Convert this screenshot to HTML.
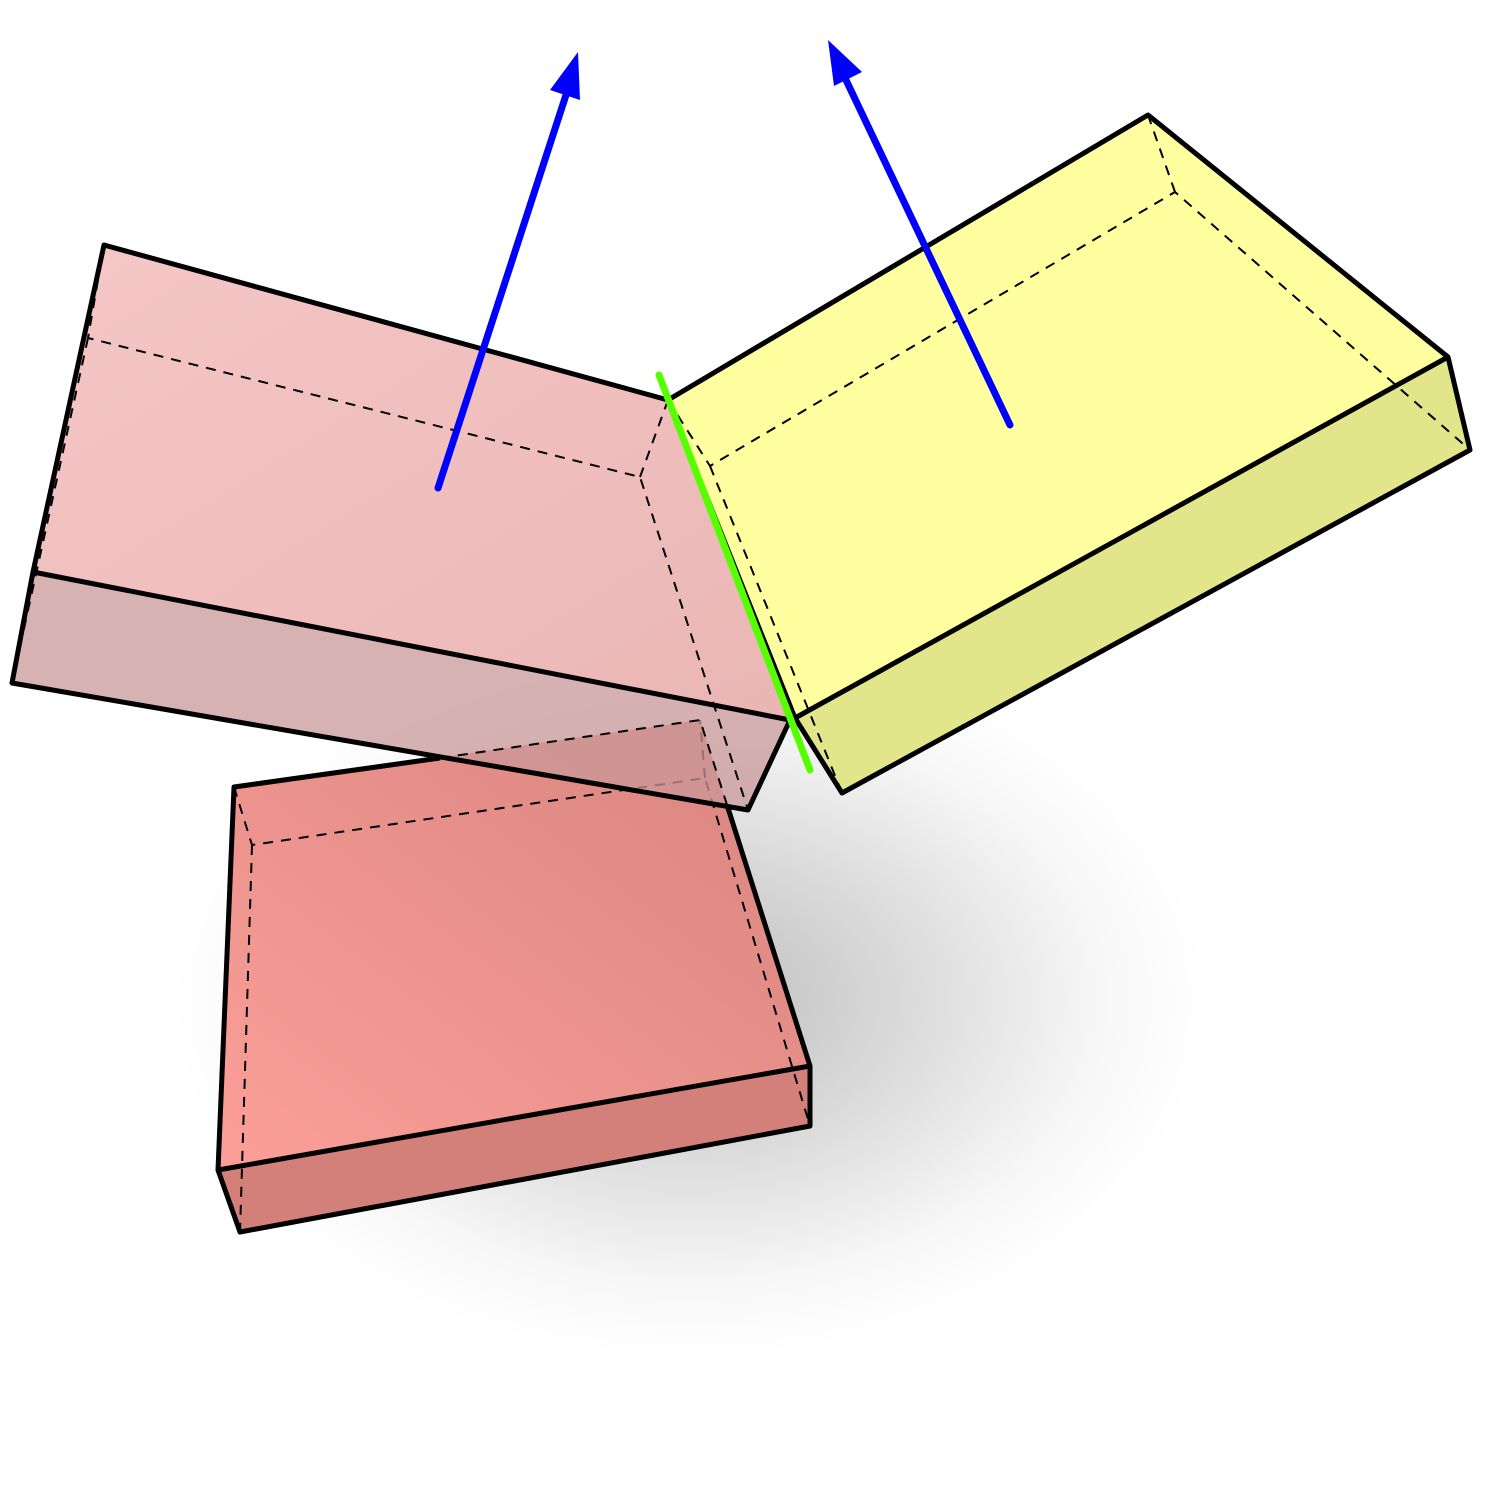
<!DOCTYPE html>
<html><head><meta charset="utf-8"><style>html,body{margin:0;padding:0;background:#fff}svg{display:block}</style></head>
<body>
<svg width="1500" height="1500" viewBox="0 0 1500 1500">
<defs>
<radialGradient id="sh" cx="0.5" cy="0.5" r="0.5">
<stop offset="0" stop-color="#000" stop-opacity="0.26"/>
<stop offset="0.5" stop-color="#000" stop-opacity="0.12"/>
<stop offset="0.8" stop-color="#000" stop-opacity="0.03"/>
<stop offset="1" stop-color="#000" stop-opacity="0"/>
</radialGradient>
<linearGradient id="redtop" x1="0" y1="1" x2="1" y2="0">
<stop offset="0" stop-color="#fc9f98"/><stop offset="1" stop-color="#d7847f"/>
</linearGradient>
<linearGradient id="pinktop" x1="0" y1="0" x2="1" y2="1">
<stop offset="0" stop-color="#f4c2c2"/><stop offset="1" stop-color="#e8b0ae"/>
</linearGradient>
</defs>
<ellipse cx="690" cy="1000" rx="520" ry="360" fill="url(#sh)"/>
<g stroke-linejoin="round">
<polygon points="234,787 700,720 810,1066 218,1170" fill="url(#redtop)"/>
<polygon points="218,1170 810,1066 810,1126 240,1232" fill="#d3807b"/>
<g fill="none" stroke="#000" stroke-width="2" stroke-dasharray="10,8">
<polyline points="234,787 252,845 705,778 810,1126"/>
<line x1="705" y1="778" x2="700" y2="720"/>
<line x1="252" y1="845" x2="240" y2="1232"/>
</g>
<g fill="none" stroke="#000" stroke-width="5">
<polyline points="440,758 234,787 218,1170 810,1066 728,808"/>
<polyline points="218,1170 240,1232 810,1126 810,1066"/>
</g>
</g>
<g stroke-linejoin="round">
<polygon points="104,245 668,400 790,720 33,572" fill="url(#pinktop)" fill-opacity="0.92"/>
<polygon points="33,572 790,720 748,810 12,683" fill="#c99898" fill-opacity="0.75"/>
<g fill="none" stroke="#000" stroke-width="2" stroke-dasharray="10,8">
<polyline points="104,245 88,338 640,477 748,810"/>
<line x1="640" y1="477" x2="668" y2="400"/>
<line x1="88" y1="338" x2="12" y2="683"/>
<polyline points="440,758 700,720 728,808"/>
</g>
<g fill="none" stroke="#000" stroke-width="5">
<polygon points="104,245 668,400 790,720 33,572"/>
<polyline points="33,572 12,683 748,810 790,720"/>
</g>
</g>
<g stroke-linejoin="round">
<polygon points="668,400 1148,115 1448,357 795,718" fill="#ffff9f"/>
<polygon points="795,718 1448,357 1470,450 842,793" fill="#e2e58a"/>
<g fill="none" stroke="#000" stroke-width="2" stroke-dasharray="10,8">
<polyline points="668,400 710,466 1175,192 1470,450"/>
<line x1="1175" y1="192" x2="1148" y2="115"/>
<line x1="710" y1="466" x2="842" y2="793"/>
</g>
<g fill="none" stroke="#000" stroke-width="5">
<polygon points="668,400 1148,115 1448,357 795,718"/>
<polyline points="795,718 842,793 1470,450 1448,357"/>
</g>
</g>
<line x1="659" y1="375" x2="810" y2="770" stroke="#55ff00" stroke-width="7" stroke-linecap="round"/>
<g>
<line x1="438" y1="488" x2="566" y2="95" stroke="#0000ff" stroke-width="7" stroke-linecap="round"/>
<polygon points="578,52 580,100 550,90" fill="#0000ff"/>
</g>
<g>
<line x1="1010" y1="425" x2="846" y2="80" stroke="#0000ff" stroke-width="7" stroke-linecap="round"/>
<polygon points="828,40 862,72 834,86" fill="#0000ff"/>
</g>
</svg>
</body></html>
